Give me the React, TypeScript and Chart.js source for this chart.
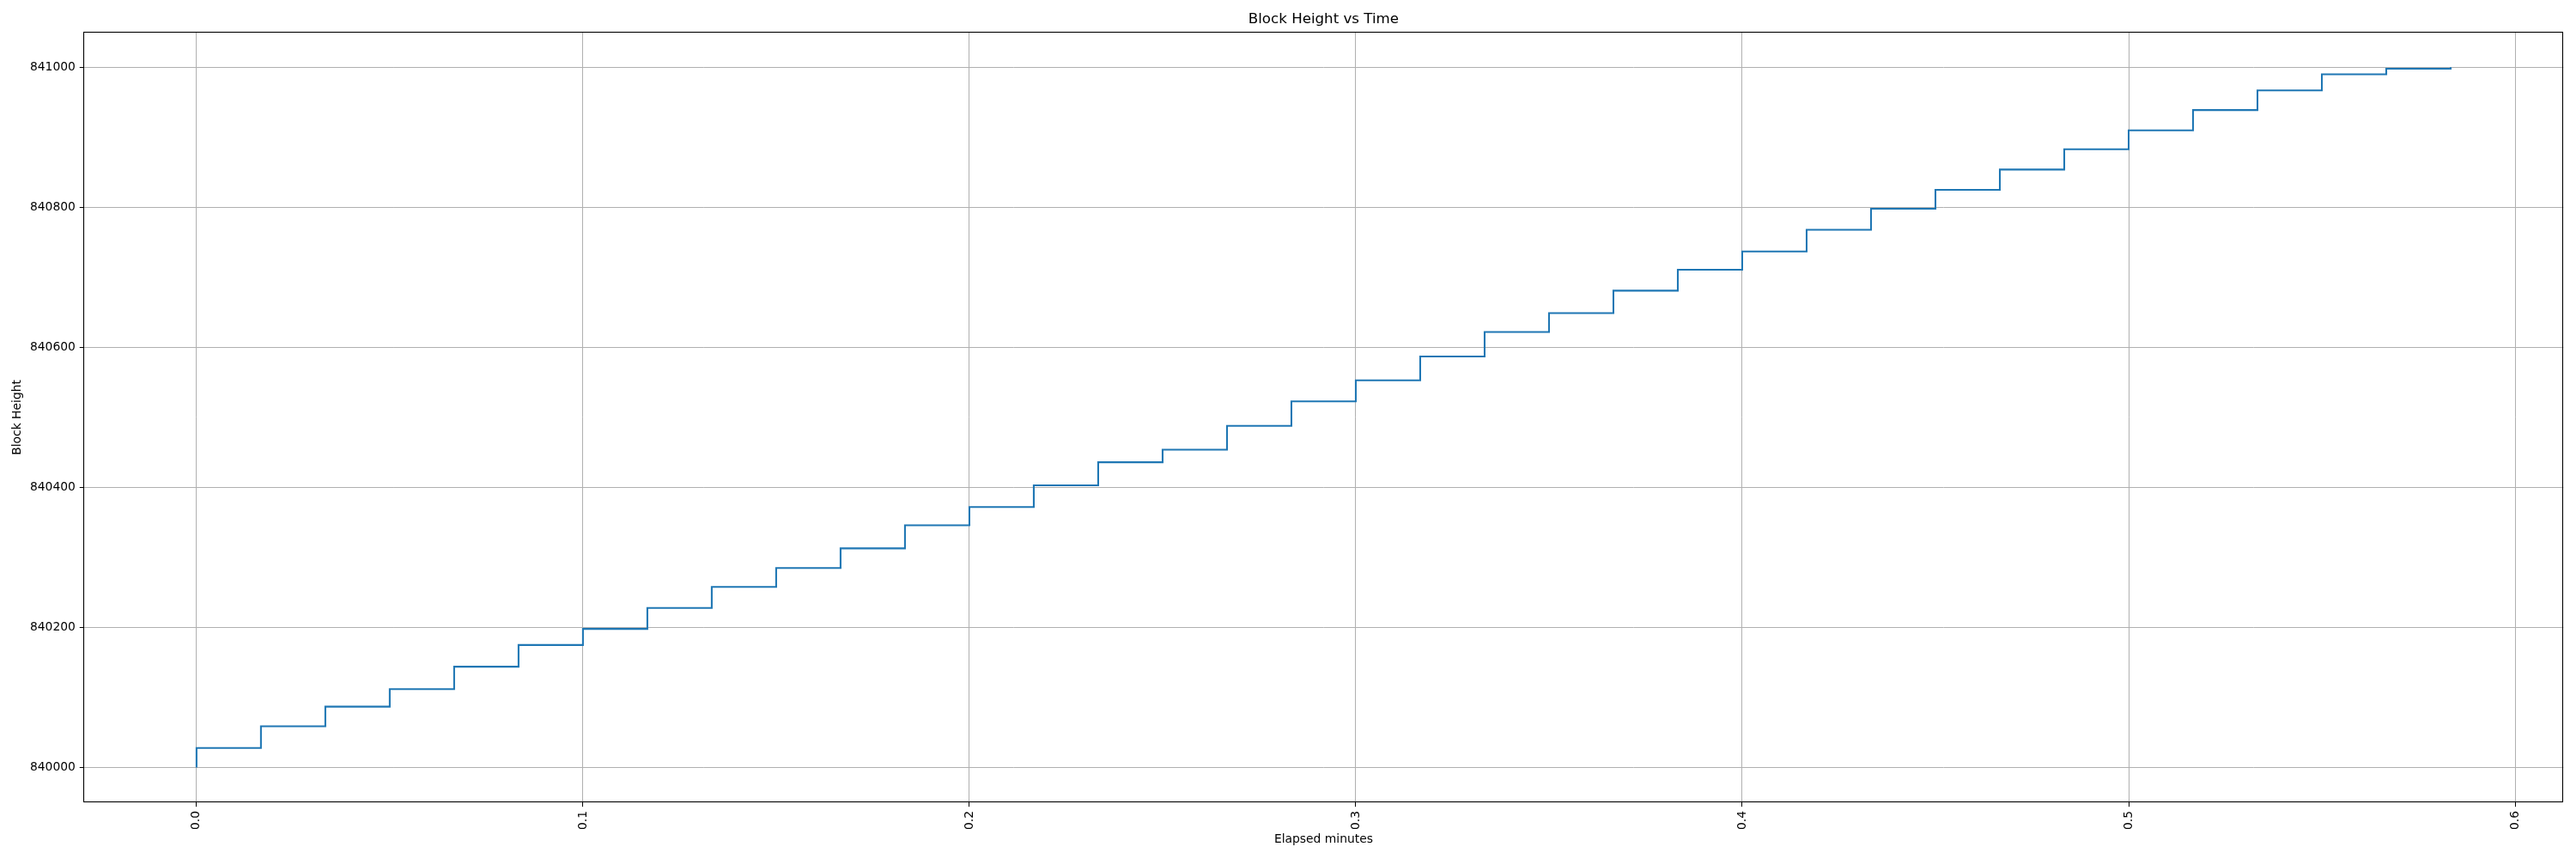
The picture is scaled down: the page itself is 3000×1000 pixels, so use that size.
import React, { useEffect, useRef } from "react";
import { Chart, registerables } from "chart.js";

Chart.register(...registerables);

// Elapsed time in whole seconds (x axis is shown in minutes)
const elapsedSeconds = [
  0, 0, 1, 2, 3, 4, 5, 6, 7, 8, 9, 10, 11, 12, 13, 14, 15, 16, 17, 18, 19, 20,
  21, 22, 23, 24, 25, 26, 27, 28, 29, 30, 31, 32, 33, 34, 35,
];

// Block height level reached at each elapsed second
const blockHeights = [
  840000, 840028, 840059, 840087, 840112, 840144, 840175, 840198, 840228,
  840258, 840285, 840313, 840346, 840372, 840403, 840436, 840454, 840488,
  840523, 840553, 840587, 840622, 840649, 840681, 840711, 840737, 840768,
  840798, 840825, 840854, 840883, 840910, 840939, 840967, 840990, 840998,
  841000,
];

const xTickValues = [0, 0.1, 0.2, 0.3, 0.4, 0.5, 0.6];
const yTickValues = [840000, 840200, 840400, 840600, 840800, 841000];
const xRange = [-0.02917, 0.6125];
const yRange = [839950, 841050];

const FONT = "DejaVu Sans";

const framePlugin = {
  id: "frame",
  afterDatasetsDraw(chart: any) {
    const { ctx, chartArea } = chart;
    const l = Math.round(chartArea.left) - 0.5;
    const r = Math.round(chartArea.right) - 0.5;
    const t = Math.round(chartArea.top) - 0.5;
    const b = Math.round(chartArea.bottom) - 0.5;
    ctx.save();
    ctx.strokeStyle = "#000";
    ctx.lineWidth = 1.1;
    ctx.strokeRect(l, t, r - l, b - t);
    ctx.restore();
  },
};

export default function App() {
  const canvasRef = useRef<HTMLCanvasElement | null>(null);

  useEffect(() => {
    if (!canvasRef.current) return;
    const points = elapsedSeconds.map((s, i) => ({ x: s / 60, y: blockHeights[i] }));
    const tickFont = { family: FONT, size: 13.89, lineHeight: 1.2 };
    const chart = new Chart(canvasRef.current, {
      type: "line",
      data: {
        datasets: [
          {
            label: "Block Height",
            data: points,
            borderColor: "#1f77b4",
            backgroundColor: "#1f77b4",
            borderWidth: 2.08,
            pointRadius: 0,
            stepped: "before",
            fill: false,
            tension: 0,
          },
        ],
      },
      options: {
        animation: false,
        responsive: false,
        devicePixelRatio: 1,
        layout: { padding: { left: 0, right: 14.7, top: 0, bottom: 0 } },
        plugins: {
          legend: { display: false },
          tooltip: { enabled: false },
          title: {
            display: true,
            text: "Block Height vs Time",
            color: "#000",
            fullSize: false,
            font: { family: FONT, size: 16.67, weight: "normal", lineHeight: 1.2 },
            padding: { top: 12.3, bottom: 5.3 },
          },
        },
        scales: {
          x: {
            type: "linear",
            min: xRange[0],
            max: xRange[1],
            afterFit: (s: any) => {
              s.height = 65.7;
            },
            afterBuildTicks: (s: any) => {
              s.ticks = xTickValues.map((v) => ({ value: v }));
            },
            ticks: {
              minRotation: 90,
              maxRotation: 90,
              autoSkip: false,
              padding: 4.86,
              color: "#000",
              font: tickFont,
              callback: (v: any) => Number(v).toFixed(1),
            },
            grid: {
              color: "#b0b0b0",
              lineWidth: 1,
              tickLength: 4.86,
              tickColor: "#000",
              tickWidth: 1,
            },
            border: { display: false },
            title: {
              display: true,
              text: "Elapsed minutes",
              color: "#000",
              font: tickFont,
              padding: { top: 0, bottom: 14.7 },
            },
          },
          y: {
            type: "linear",
            min: yRange[0],
            max: yRange[1],
            afterFit: (s: any) => {
              s.width = 97.6;
            },
            afterBuildTicks: (s: any) => {
              s.ticks = yTickValues.map((v) => ({ value: v }));
            },
            ticks: {
              autoSkip: false,
              padding: 4.86,
              color: "#000",
              font: tickFont,
              callback: (v: any) => String(v),
            },
            grid: {
              color: "#b0b0b0",
              lineWidth: 1,
              tickLength: 4.86,
              tickColor: "#000",
              tickWidth: 1,
            },
            border: { display: false },
            title: {
              display: true,
              text: "Block Height",
              color: "#000",
              font: tickFont,
              padding: { top: 12.1, bottom: 0 },
            },
          },
        },
      },
      plugins: [framePlugin],
    } as any);
    return () => chart.destroy();
  }, []);

  return (
    <div style={{ position: "absolute", left: 0, top: 0, width: 3000, height: 1000, background: "#fff" }}>
      <canvas ref={canvasRef} width={3000} height={1000} style={{ display: "block" }} />
    </div>
  );
}
